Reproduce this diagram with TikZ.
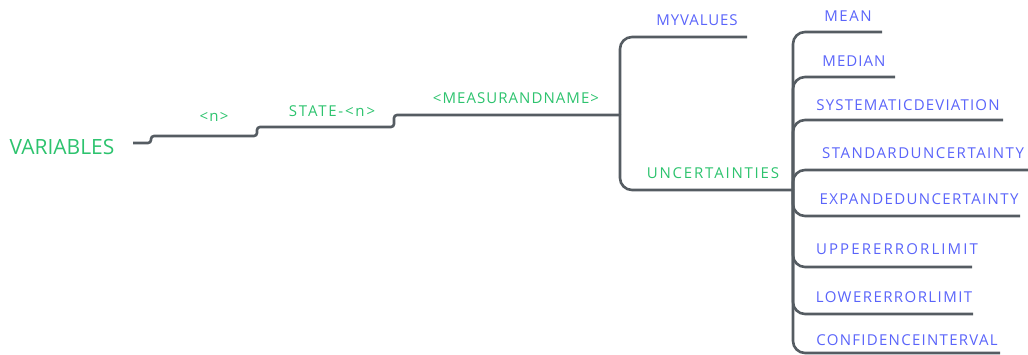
\documentclass[tikz,border=0pt]{standalone}
\usepackage{fontspec}
\setmainfont{Open Sans}
\definecolor{lgreen}{RGB}{45,195,110}
\definecolor{lblue}{RGB}{90,100,250}
\definecolor{lgray}{RGB}{85,92,98}
\begin{document}
\begin{tikzpicture}[x=1pt,y=-1pt,
  conn/.style={draw=lgray,line width=2.6pt,rounded corners=12pt},
  stepline/.style={draw=lgray,line width=2.6pt,rounded corners=3pt},
  glab/.style={text=lgreen,inner sep=0pt,font=\fontsize{15}{18}\selectfont\addfontfeatures{LetterSpace=#1}},
  blab/.style={text=lblue,inner sep=0pt,font=\fontsize{15}{18}\selectfont\addfontfeatures{LetterSpace=#1}},
  root/.style={text=lgreen,inner sep=0pt,font=\fontsize{21}{24}\selectfont}]
\useasboundingbox (0,0) rectangle (1028,355);
% labels
\node[root] (var) at (62,147) {VARIABLES};
\node[glab=8] (n) at (214,117) {<n>};
\node[glab=12] (state) at (332,111) {STATE-<n>};
\node[glab=7] (meas) at (516,98) {<MEASURANDNAME>};
\node[blab=6] (myv) at (697,20) {MYVALUES};
\node[glab=12] (unc) at (713,173) {UNCERTAINTIES};
\node[blab=10] (mean) at (848,16) {MEAN};
\node[blab=7] (median) at (854,61) {MEDIAN};
\node[blab=8] (sys) at (908,105) {SYSTEMATICDEVIATION};
\node[blab=10] (std) at (923,153) {STANDARDUNCERTAINTY};
\node[blab=9] (exp) at (919,199) {EXPANDEDUNCERTAINTY};
\node[blab=14] (upp) at (897,249) {UPPERERRORLIMIT};
\node[blab=9.5] (low) at (894,297) {LOWERERRORLIMIT};
\node[blab=8.5] (conf) at (907,340) {CONFIDENCEINTERVAL};
% coordinates
\coordinate (r0) at (133,143);
\coordinate (j0) at (620,115);
\coordinate (j1) at (793,190);
\coordinate (emyv) at (747,37);
\coordinate (eunc) at (793,190);
\coordinate (emean) at (882,32);
\coordinate (emedian) at (895,77);
\coordinate (esys) at (1003,120);
\coordinate (estd) at (1028,170);
\coordinate (eexp) at (1020,216);
\coordinate (eupp) at (972,267);
\coordinate (elow) at (973,314);
\coordinate (econf) at (1000,353);
% connectors
\draw[stepline] (r0) -- (151,143) -- (151,136) -- (257,136) -- (257,127) -- (394,127) -- (394,115) -- (j0);
\draw[conn] (j0) |- (emyv);
\draw[conn] (j0) |- (eunc);
\foreach \e in {emean,emedian,esys,estd,eexp,eupp,elow,econf}
  \draw[conn] (j1) |- (\e);
\end{tikzpicture}
\end{document}
